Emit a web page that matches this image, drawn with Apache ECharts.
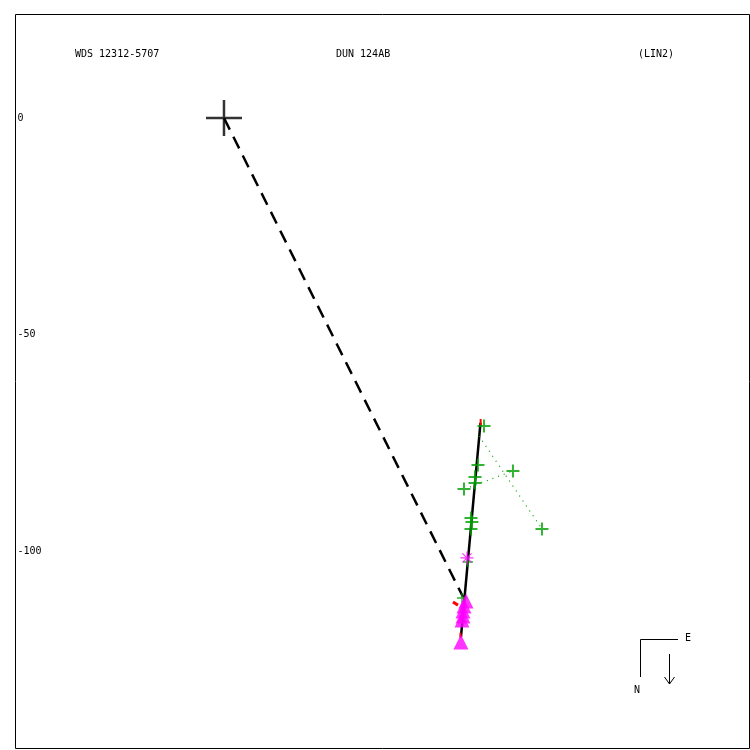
<!DOCTYPE html>
<html>
<head>
<meta charset="utf-8">
<script src="https://cdn.jsdelivr.net/npm/echarts@6/dist/echarts.min.js"></script>
<style>html,body{margin:0;padding:0;background:#fff;}#c{width:750px;height:750px;}</style>
</head>
<body>
<div id="c"></div>
<script>
// ---- data (arcsec-like units) ----
var yTickValues = [0, -50, -100];
var titleLeft = 'WDS 12312-5707';
var titleMid = 'DUN 124AB';
var titleRight = '(LIN2)';
var primaryStar = [[0, 0]];
var orbitLine = [[59.24, -70.44], [54.73, -119.86]];
var periastronLine = [[0, 0], [55.2, -110.6]];
var greenObs = [
  [60.05, -71.13], [58.66, -80.14], [57.97, -82.91], [57.97, -84.30],
  [55.43, -85.68], [66.74, -81.52], [73.44, -94.92], [57.04, -92.38],
  [57.27, -93.30], [57.04, -94.92]
];
var smallGreenObs = [[56.35, -102.54], [54.97, -110.85]];
var magentaTriangles = [
  [55.89, -111.55], [55.43, -112.70], [55.20, -113.86],
  [55.20, -115.01], [54.97, -115.94], [54.73, -121.02]
];
var magentaStar = [[56.12, -101.6]];
var ocLineA = [[58.89, -73.44], [73.44, -94.92]];
var ocLineB = [[56.81, -85.22], [66.74, -81.52]];
var redA = [[59.28, -69.5], [59.28, -70.9]];
var redB = [[52.89, -111.8], [54.04, -112.5]];
var redC = [[54.62, -118.9], [54.62, -120.1]];

var crossPath = 'path://M10,0L10,20M0,10L20,10';
var starPath = 'path://M10,0L10,20M0,10L20,10M3,3L17,17M3,17L17,3';
var mono = 'DejaVu Sans Mono';
var green = '#00a000';

function seg(data, color, width, type) {
  return {type: 'line', data: data, symbol: 'none', silent: true, animation: false,
    lineStyle: {color: color, width: width, type: type}, z: 2};
}

var chart = echarts.init(document.getElementById('c'), null, {renderer: 'canvas'});
chart.setOption({
  animation: false,
  backgroundColor: '#fff',
  grid: {left: 15.5, top: 14.5, width: 734, height: 734, show: true, borderColor: '#000', borderWidth: 1, backgroundColor: 'transparent'},
  xAxis: {type: 'value', min: -48.15, max: 121.37, show: false},
  yAxis: {type: 'value', min: -145.62, max: 23.9,
    axisLine: {show: false}, axisTick: {show: false}, splitLine: {show: false},
    axisLabel: {inside: true, margin: 2, customValues: yTickValues, fontFamily: mono, fontSize: 10, color: '#000'}},
  series: [
    seg(periastronLine, '#000', 2.5, [13, 8]),
    seg(orbitLine, '#000', 2.5, 'solid'),
    seg(ocLineA, green, 1.2, [1, 5]),
    seg(ocLineB, green, 1.2, [1, 5]),
    seg(redA, '#ff0000', 2, 'solid'),
    seg(redB, '#ff0000', 3, 'solid'),
    seg(redC, '#ff0000', 2, 'solid'),
    {type: 'scatter', data: primaryStar, symbol: crossPath, symbolSize: 36, silent: true,
      itemStyle: {color: 'transparent', borderColor: '#000', borderWidth: 2.5}, z: 3},
    {type: 'scatter', data: greenObs, symbol: crossPath, symbolSize: 13, silent: true,
      itemStyle: {color: 'transparent', borderColor: green, borderWidth: 2}, z: 3},
    {type: 'scatter', data: smallGreenObs, symbol: crossPath, symbolSize: 10, silent: true,
      itemStyle: {color: 'transparent', borderColor: green, borderWidth: 1.5}, z: 3},
    {type: 'scatter', data: magentaTriangles, symbol: 'triangle', symbolSize: 15, silent: true,
      itemStyle: {color: '#ff00ff'}, z: 4},
    {type: 'scatter', data: magentaStar, symbol: starPath, symbolSize: 13, silent: true,
      itemStyle: {color: 'transparent', borderColor: '#ff00ff', borderWidth: 1.2}, z: 4}
  ],
  graphic: [
    {type: 'text', left: 75, top: 49, style: {text: titleLeft, font: '10px ' + mono, fill: '#000'}},
    {type: 'text', left: 336, top: 49, style: {text: titleMid, font: '10px ' + mono, fill: '#000'}},
    {type: 'text', left: 638, top: 49, style: {text: titleRight, font: '10px ' + mono, fill: '#000'}},
    {type: 'polyline', shape: {points: [[640.5, 677], [640.5, 639.5], [678, 639.5]]}, style: {stroke: '#000', lineWidth: 1, fill: null}},
    {type: 'text', left: 685, top: 633, style: {text: 'E', font: '10px ' + mono, fill: '#000'}},
    {type: 'text', left: 634, top: 685, style: {text: 'N', font: '10px ' + mono, fill: '#000'}},
    {type: 'polyline', shape: {points: [[669.5, 654], [669.5, 684]]}, style: {stroke: '#000', lineWidth: 1, fill: null}},
    {type: 'polyline', shape: {points: [[664.5, 677], [669.5, 684], [674.5, 677]]}, style: {stroke: '#000', lineWidth: 1, fill: null}}
  ]
});
</script>
</body>
</html>
